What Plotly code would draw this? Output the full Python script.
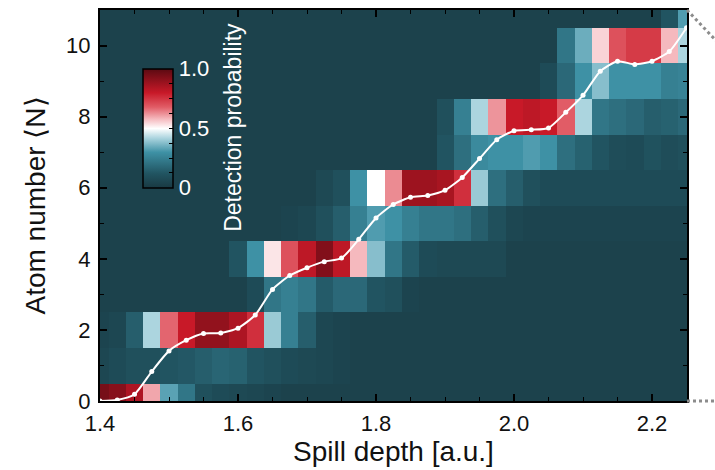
import numpy as np
import plotly.graph_objects as go

# Spill depth grid (bin centres) and atom-number rows
spill_depth = [round(1.4 + 0.025 * k, 3) for k in range(35)]
atom_number = list(range(12))

bg = 0.04
# Detection probability per atom number N (rows) vs spill depth (columns)
p_n0 = [0.95, 0.92, 0.85, 0.60, 0.33, 0.22, 0.10, 0.08, 0.07, 0.06, 0.05] + [bg] * 24
p_n1 = [0.06, 0.08, 0.10, 0.10, 0.12, 0.13, 0.15, 0.17, 0.16, 0.12, 0.10, 0.08, 0.07, 0.06, 0.05] + [bg] * 20
p_n2 = [0.05, 0.06, 0.15, 0.42, 0.67, 0.80, 0.90, 0.90, 0.85, 0.76, 0.40, 0.25, 0.15, 0.06, 0.05] + [bg] * 20
p_n3 = [bg] * 9 + [0.08, 0.22, 0.25, 0.22, 0.14, 0.18, 0.18, 0.12, 0.10, 0.05] + [bg] * 16
p_n4 = [bg] * 8 + [0.12, 0.30, 0.53, 0.70, 0.82, 0.93, 0.82, 0.58, 0.38, 0.22, 0.14, 0.08,
                   0.07, 0.07, 0.07, 0.07] + [bg] * 11
p_n5 = [bg] * 11 + [0.05, 0.06, 0.10, 0.15, 0.25, 0.32, 0.30, 0.25, 0.22, 0.22, 0.20, 0.15,
                    0.10, 0.06] + [0.05] * 10
p_n6 = [bg] * 13 + [0.07, 0.10, 0.30, 0.50, 0.63, 0.88, 0.88, 0.86, 0.76, 0.40, 0.20, 0.15,
                    0.10, 0.08, 0.08, 0.08, 0.08, 0.08, 0.08, 0.08, 0.08, 0.08]
p_n7 = [bg] * 20 + [0.12, 0.20, 0.28, 0.30, 0.30, 0.32, 0.30, 0.20, 0.16, 0.12, 0.09, 0.08,
                    0.11, 0.09, 0.10]
p_n8 = [bg] * 20 + [0.10, 0.25, 0.42, 0.62, 0.80, 0.82, 0.80, 0.68, 0.42, 0.22, 0.20, 0.18,
                    0.15, 0.16, 0.18]
p_n9 = [bg] * 26 + [0.08, 0.18, 0.30, 0.38, 0.30, 0.30, 0.30, 0.25, 0.26]
p_n10 = [bg] * 27 + [0.22, 0.35, 0.55, 0.70, 0.74, 0.74, 0.58, 0.42]
p_n11 = [bg] * 33 + [0.12, 0.32]

probabilities = [p_n0, p_n1, p_n2, p_n3, p_n4, p_n5, p_n6, p_n7, p_n8, p_n9, p_n10, p_n11]

# Mean atom number <N> at each spill depth
mean_atom_number = [0.00, 0.03, 0.19, 0.83, 1.41, 1.71, 1.90, 1.91, 2.05, 2.42,
                    3.14, 3.53, 3.75, 3.92, 4.02, 4.55, 5.15, 5.53, 5.73, 5.78,
                    5.93, 6.29, 6.82, 7.35, 7.60, 7.63, 7.68, 8.12, 8.60, 9.28,
                    9.56, 9.47, 9.56, 9.83, 10.50]

x_ticks = [1.4, 1.6, 1.8, 2.0, 2.2]
x_labels = ["1.4", "1.6", "1.8", "2.0", "2.2"]
y_ticks = [0, 2, 4, 6, 8, 10]
cbar_ticks = [0, 0.125, 0.25, 0.375, 0.5, 0.625, 0.75, 0.875, 1.0]
cbar_labels = ["0", "", "", "", "0.5", "", "", "", "1.0"]

base_color = "rgb(25,57,66)"
colorscale = [
    [0.0, base_color],
    [0.12, "rgb(33,84,97)"],
    [0.30, "rgb(62,145,165)"],
    [0.42, "rgb(172,213,223)"],
    [0.50, "rgb(255,255,255)"],
    [0.58, "rgb(245,185,190)"],
    [0.68, "rgb(225,92,102)"],
    [0.80, "rgb(200,25,40)"],
    [1.0, "rgb(92,10,18)"],
]

FONT = "Liberation Sans, Arial, Helvetica, sans-serif"

fig = go.Figure()
fig.add_trace(go.Heatmap(
    x=spill_depth, y=atom_number, z=probabilities,
    zmin=0, zmax=1, colorscale=colorscale,
    hoverinfo="skip",
    colorbar=dict(
        x=43 / 587, xanchor="left", xref="paper",
        y=(403 - 127.5) / 395, yanchor="middle",
        thickness=30, thicknessmode="pixels",
        len=119, lenmode="pixels",
        xpad=0, ypad=0,
        outlinewidth=1.5, outlinecolor="black",
        ticks="inside", ticklen=4, tickwidth=1, tickcolor="black",
        tickvals=cbar_ticks, ticktext=cbar_labels,
        tickfont=dict(family=FONT, size=22, color="white"),
    ),
))

fig.add_trace(go.Scatter(
    x=spill_depth, y=mean_atom_number,
    mode="lines+markers",
    line=dict(color="white", width=2, shape="spline", smoothing=0.6),
    marker=dict(color="white", size=5),
    hoverinfo="skip", showlegend=False,
))

# Colorbar title
fig.add_annotation(
    x=(233 - 100) / 587, y=(403 - 127) / 395, xref="paper", yref="paper",
    text="Detection probability", textangle=-90, showarrow=False,
    font=dict(family=FONT, size=23, color="white"),
    xanchor="center", yanchor="middle",
)

# Dotted guide lines leading off to the right
dot = dict(color="rgb(140,140,140)", width=3, dash="dot")
fig.add_shape(type="line", xref="paper", yref="paper",
              x0=1.0, y0=1.0, x1=1.06, y1=0.905, line=dot)
fig.add_shape(type="line", xref="paper", yref="paper",
              x0=1.0, y0=0.0, x1=1.06, y1=0.0, line=dot)

axis_common = dict(
    showline=True, linecolor="black", linewidth=2, mirror="ticks",
    ticks="inside", ticklen=7, tickwidth=1.5, tickcolor="black",
    showgrid=False, zeroline=False,
    tickfont=dict(family=FONT, size=22, color="#111111"),
)

fig.update_layout(
    width=715, height=470,
    margin=dict(l=100, r=28, t=8, b=67),
    paper_bgcolor="white", plot_bgcolor=base_color,
    showlegend=False,
    xaxis=dict(
        range=[1.4, 2.2507], tickvals=x_ticks, ticktext=x_labels,
        ticklabelstandoff=2,
        minor=dict(dtick=0.05, tick0=1.4, ticks="inside", ticklen=4, tickwidth=1, tickcolor="black"),
        title=dict(text="Spill depth [a.u.]", font=dict(family=FONT, size=28, color="#111111"),
                   standoff=6),
        **axis_common,
    ),
    yaxis=dict(
        range=[0, 11], tickvals=y_ticks,
        ticklabelstandoff=3,
        minor=dict(dtick=1, tick0=0, ticks="inside", ticklen=4, tickwidth=1, tickcolor="black"),
        title=dict(text="Atom number \u27e8N\u27e9", font=dict(family=FONT, size=28, color="#111111"),
                   standoff=12),
        **axis_common,
    ),
)

fig.write_html("out.html")
